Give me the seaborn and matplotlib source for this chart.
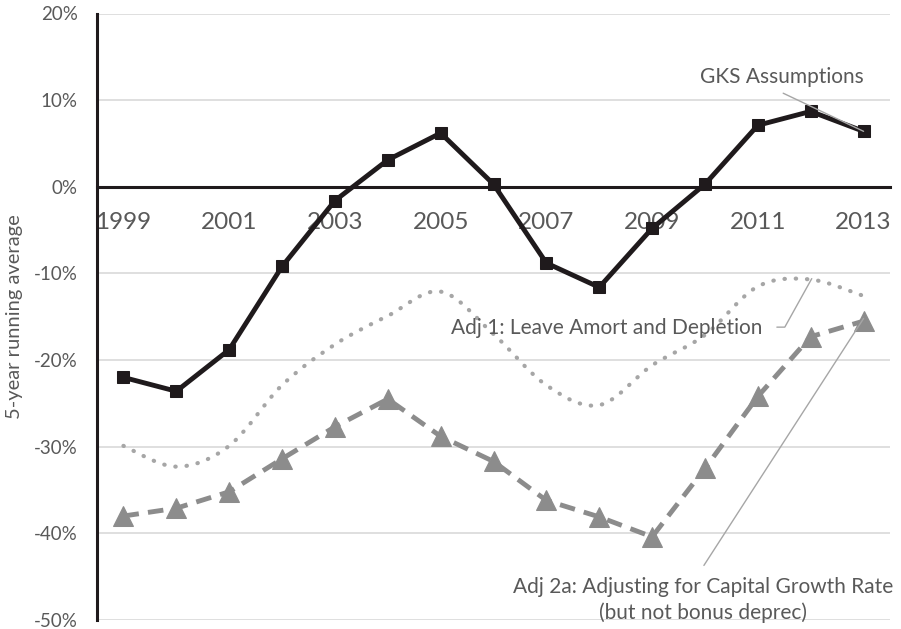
import numpy as np
import pandas as pd
import matplotlib.pyplot as plt
import seaborn as sns
from matplotlib.path import Path
from matplotlib.patches import PathPatch

years = list(range(1999, 2014))
gks = [-22.0, -23.6, -18.8, -9.2, -1.6, 3.1, 6.2, 0.3, -8.8, -11.6, -4.8, 0.3, 7.1, 8.7, 6.4]
adj1 = [-29.9, -32.3, -29.9, -22.9, -18.2, -14.9, -12.1, -17.0, -22.9, -25.2, -20.6, -17.1, -11.5, -10.7, -12.6]
adj2a = [-38.0, -37.1, -35.2, -31.4, -27.7, -24.5, -28.8, -31.7, -36.2, -38.1, -40.4, -32.5, -24.2, -17.3, -15.5]
tick_years = [1999, 2001, 2003, 2005, 2007, 2009, 2011, 2013]
y_ticks = [-50, -40, -30, -20, -10, 0, 10, 20]

df = pd.DataFrame({"year": years, "gks": gks, "adj1": adj1, "adj2a": adj2a})

sns.set_style("white")
plt.rcParams['font.family'] = ['Lato', 'DejaVu Sans']
txt = "#595959"

fig = plt.figure(figsize=(9.01, 6.29), dpi=100)
ax = fig.add_axes([97 / 901, 9 / 629, 793 / 901, 606.5 / 629])

# gridlines
for v in y_ticks:
    if v != 0:
        ax.axhline(v, color="#d9d9d9", lw=1.2, zorder=0)

# smoothed dotted line (Excel style bezier smoothing)
pts = np.column_stack([years, adj1]).astype(float)
ext = np.vstack([pts[0], pts, pts[-1]])
verts = [tuple(pts[0])]
codes = [Path.MOVETO]
for i in range(1, len(ext) - 2):
    p0, p1, p2, p3 = ext[i - 1], ext[i], ext[i + 1], ext[i + 2]
    c1 = p1 + (p2 - p0) / 6
    c2 = p2 - (p3 - p1) / 6
    verts += [tuple(c1), tuple(c2), tuple(p2)]
    codes += [Path.CURVE4] * 3
ax.add_patch(PathPatch(Path(verts, codes), fill=False, edgecolor="#a6a6a6", lw=3,
                       linestyle=(0, (0.1, 2.6)), capstyle="round", zorder=2))

sns.lineplot(data=df, x="year", y="adj2a", ax=ax, color="#8c8c8c", lw=3.5,
             marker="^", markersize=15, markeredgecolor="#8c8c8c", zorder=3)
ax.lines[-1].set_linestyle((0, (3.2, 1.9)))
sns.lineplot(data=df, x="year", y="gks", ax=ax, color="#1f1a1c", lw=3.5,
             marker="s", markersize=8.5, markeredgecolor="#1f1a1c", zorder=4)

ax.set_xlim(1998.5, 2013.5)
ax.set_ylim(-50, 20)
ax.set_yticks(y_ticks)
ax.set_yticklabels([f"{v}%" for v in y_ticks])
ax.set_xticks(tick_years)
ax.set_xticklabels([str(y) for y in tick_years])

for s in ["top", "right"]:
    ax.spines[s].set_visible(False)
ax.spines["bottom"].set_position(("data", 0))
ax.spines["bottom"].set_color("#1f1a1c")
ax.spines["bottom"].set_linewidth(2.2)
ax.spines["bottom"].set_zorder(1)
ax.spines["left"].set_color("#1f1a1c")
ax.spines["left"].set_linewidth(2.2)

ax.tick_params(axis="y", length=0, pad=14, labelsize=13.5, labelcolor=txt)
ax.tick_params(axis="x", length=0, pad=18, labelsize=17.5, labelcolor=txt)
ax.set_xlabel("")
ax.set_ylabel("5-year running average", fontsize=14.5, color=txt)
ax.yaxis.set_label_coords(-0.093, 0.5)

# labels with leader lines
lead = dict(color="#a6a6a6", lw=1)
ax.text(2011.46, 12.7, "GKS Assumptions", ha="center", va="center", fontsize=15, color=txt)
ax.plot([2011.48, 2013], [10.8, 6.4], **lead, zorder=5)

ax.text(2008.14, -16.3, "Adj 1: Leave Amort and Depletion", ha="center", va="center",
        fontsize=15, color=txt)
ax.plot([2011.36, 2011.51, 2012.02], [-16.2, -16.2, -10.6], **lead, zorder=5)

ax.text(2009.96, -47.7, "Adj 2a: Adjusting for Capital Growth Rate\n(but not bonus deprec)",
        ha="center", va="center", fontsize=15, color=txt, linespacing=1.35)
ax.plot([2009.98, 2013], [-43.7, -15.2], **lead, zorder=5)

fig.savefig("out.png", dpi=100)
